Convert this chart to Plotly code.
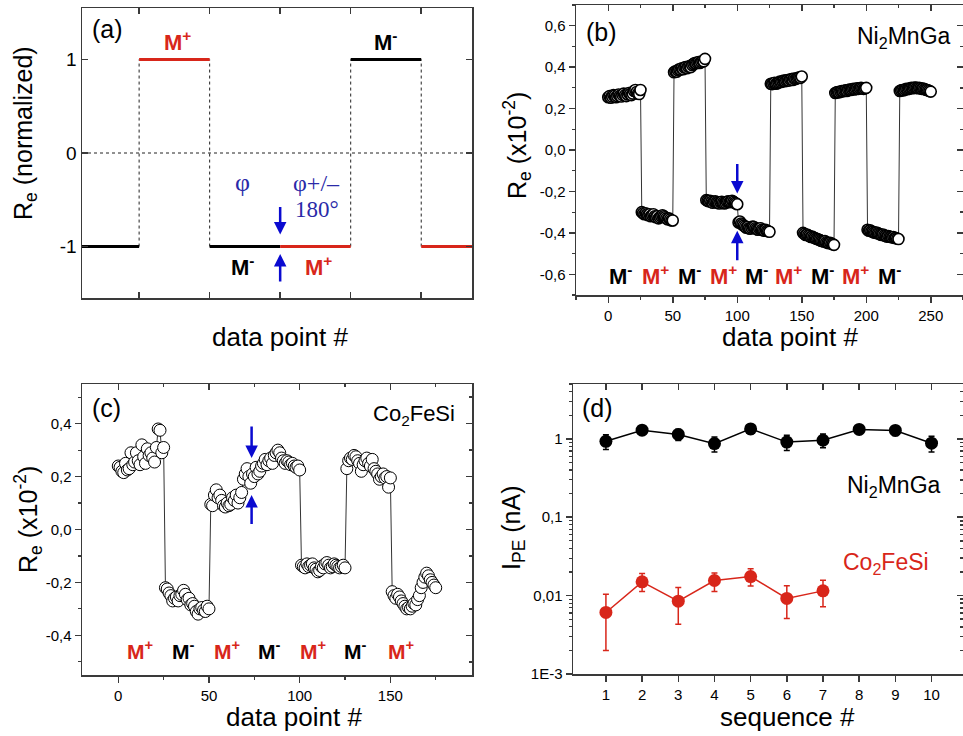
import plotly.graph_objects as go

W, H = 963, 736
FONT = "Liberation Sans, Arial, sans-serif"
SERIF = "Liberation Serif, Times New Roman, serif"
RED = "#d8261a"
BLUE = "#0a0ad0"
DBLUE = "#2a2aa8"
AX = "#3a3a3a"


def px(x):
    return x / W


def py(y):
    return 1 - y / H


# ---------------- data: panel (a) schematic ----------------
a_bounds = [0.19, 1, 2, 3, 4, 5, 5.72]
a_levels = [-1, 1, -1, -1, 1, -1]
a_colors = ["black", RED, "black", RED, "black", RED]
a_dotted_x = [1, 2, 4, 5]

# ---------------- data: panel (b) Ni2MnGa ----------------
b_seg0 = [0.255, 0.26, 0.252, 0.258, 0.265, 0.262, 0.255, 0.26, 0.268, 0.262, 0.258, 0.266, 0.272,
          0.265, 0.26, 0.268, 0.275, 0.27, 0.265, 0.272, 0.285, 0.29, 0.28, 0.272, 0.27, 0.29]
b_seg1 = [-0.30, -0.305, -0.31, -0.305, -0.31, -0.315, -0.31, -0.32, -0.315, -0.31, -0.32, -0.325,
          -0.32, -0.33, -0.325, -0.32, -0.315, -0.32, -0.325, -0.33, -0.335, -0.33, -0.335, -0.34, -0.34]
b_seg2 = [0.375, 0.38, 0.378, 0.385, 0.39, 0.388, 0.395, 0.39, 0.398, 0.40, 0.395, 0.402, 0.405,
          0.40, 0.41, 0.415, 0.42, 0.418, 0.422, 0.425, 0.42, 0.425, 0.43, 0.428, 0.44]
b_seg3 = [-0.242, -0.245, -0.248, -0.245, -0.25, -0.255, -0.25, -0.248, -0.252, -0.255, -0.258,
          -0.252, -0.25, -0.255, -0.258, -0.255, -0.25, -0.248, -0.252, -0.25, -0.245, -0.25,
          -0.255, -0.258, -0.262]
b_seg4 = [-0.35, -0.345, -0.355, -0.36, -0.365, -0.37, -0.375, -0.372, -0.378, -0.38, -0.375,
          -0.37, -0.372, -0.378, -0.382, -0.385, -0.38, -0.378, -0.385, -0.388, -0.39, -0.385,
          -0.39, -0.392, -0.395]
b_seg5 = [0.32, 0.318, 0.322, 0.325, 0.32, 0.322, 0.326, 0.33, 0.328, 0.332, 0.335, 0.332, 0.336,
          0.338, 0.335, 0.34, 0.342, 0.338, 0.345, 0.342, 0.345, 0.348, 0.35, 0.348, 0.355]
b_seg6 = [-0.40, -0.405, -0.41, -0.408, -0.412, -0.415, -0.42, -0.418, -0.422, -0.425, -0.428,
          -0.43, -0.432, -0.435, -0.438, -0.44, -0.442, -0.44, -0.445, -0.448, -0.45, -0.448,
          -0.452, -0.455, -0.458]
b_seg7 = [0.275, 0.278, 0.28, 0.278, 0.282, 0.285, 0.283, 0.286, 0.288, 0.285, 0.29, 0.292, 0.29,
          0.293, 0.295, 0.292, 0.295, 0.298, 0.295, 0.298, 0.30, 0.298, 0.295, 0.298, 0.30]
b_seg8 = [-0.385, -0.39, -0.388, -0.392, -0.395, -0.398, -0.40, -0.398, -0.402, -0.405, -0.408,
          -0.41, -0.408, -0.412, -0.415, -0.418, -0.415, -0.418, -0.42, -0.422, -0.42, -0.425,
          -0.425, -0.428, -0.43]
b_seg9 = [0.285, 0.288, 0.29, 0.288, 0.292, 0.295, 0.293, 0.296, 0.298, 0.30, 0.298, 0.30, 0.302,
          0.30, 0.298, 0.30, 0.298, 0.295, 0.297, 0.294, 0.292, 0.29, 0.288, 0.285, 0.282]
b_values = (b_seg0 + b_seg1 + b_seg2 + b_seg3 + b_seg4 + b_seg5 + b_seg6 + b_seg7 + b_seg8 + b_seg9)
b_labels = ["M<sup>-</sup>", "M<sup>+</sup>"] * 4 + ["M<sup>-</sup>"]
b_label_x = [9.5, 37, 63, 89, 115, 140, 166, 192, 218]
b_ytick_vals = [-0.6, -0.4, -0.2, 0.0, 0.2, 0.4, 0.6]
b_ytick_text = ["-0,6", "-0,4", "-0,2", "0,0", "0,2", "0,4", "0,6"]
b_xtick_vals = [0, 50, 100, 150, 200, 250]

# ---------------- data: panel (c) Co2FeSi ----------------
c_seg0 = [0.24, 0.235, 0.22, 0.215, 0.25, 0.225, 0.23, 0.29, 0.245, 0.255, 0.29, 0.26, 0.245,
          0.32, 0.275, 0.25, 0.305, 0.28, 0.29, 0.27, 0.255, 0.31, 0.38, 0.375, 0.29, 0.31]
c_seg1 = [-0.22, -0.225, -0.24, -0.25, -0.27, -0.26, -0.255, -0.27, -0.25, -0.245, -0.23, -0.245,
          -0.265, -0.26, -0.285, -0.28, -0.29, -0.31, -0.32, -0.30, -0.295, -0.305, -0.31, -0.29, -0.30]
c_seg2 = [0.095, 0.09, 0.13, 0.15, 0.12, 0.13, 0.11, 0.09, 0.085, 0.10, 0.09, 0.095, 0.12, 0.11,
          0.13, 0.10, 0.12, 0.14, 0.19, 0.21, 0.23, 0.20, 0.175, 0.21, 0.20, 0.235, 0.21, 0.22,
          0.24, 0.25, 0.265, 0.245, 0.26, 0.27, 0.25, 0.28, 0.29, 0.30, 0.29, 0.27, 0.26, 0.25,
          0.26, 0.255, 0.245, 0.25, 0.24, 0.235, 0.24, 0.225]
c_seg3 = [-0.135, -0.14, -0.145, -0.13, -0.14, -0.135, -0.13, -0.145, -0.15, -0.16, -0.155, -0.14,
          -0.145, -0.13, -0.125, -0.135, -0.145, -0.14, -0.13, -0.135, -0.14, -0.145, -0.14,
          -0.135, -0.145]
c_seg4 = [0.23, 0.26, 0.27, 0.265, 0.28, 0.275, 0.26, 0.25, 0.22, 0.245, 0.26, 0.27, 0.25, 0.24,
          0.265, 0.23, 0.22, 0.21, 0.19, 0.20, 0.21, 0.195, 0.20, 0.16, 0.195]
c_seg5 = [-0.235, -0.25, -0.26, -0.245, -0.255, -0.27, -0.28, -0.29, -0.30, -0.295, -0.30, -0.29,
          -0.28, -0.285, -0.265, -0.25, -0.22, -0.20, -0.18, -0.165, -0.175, -0.19, -0.20, -0.21, -0.22]
c_values = c_seg0 + c_seg1 + c_seg2 + c_seg3 + c_seg4 + c_seg5
c_labels = ["M<sup>+</sup>", "M<sup>-</sup>"] * 3 + ["M<sup>+</sup>"]
c_label_x = [12, 36, 60, 83.5, 107.5, 131, 156]
c_ytick_vals = [-0.4, -0.2, 0.0, 0.2, 0.4]
c_ytick_text = ["-0,4", "-0,2", "0,0", "0,2", "0,4"]
c_xtick_vals = [0, 50, 100, 150]

# ---------------- data: panel (d) photoemission current ----------------
d_seq_ni = [1, 2, 3, 4, 5, 6, 7, 8, 9, 10]
d_ni = [0.93, 1.29, 1.14, 0.87, 1.34, 0.91, 0.96, 1.32, 1.28, 0.88]
d_ni_err = [0.2, 0.18, 0.19, 0.19, 0.18, 0.2, 0.19, 0.17, 0.18, 0.2]
d_seq_co = [1, 2, 3, 4, 5, 6, 7]
d_co = [0.0061, 0.0150, 0.0085, 0.0156, 0.0175, 0.0092, 0.0115]
d_co_hi = [0.0104, 0.0191, 0.0127, 0.0195, 0.0220, 0.0134, 0.0157]
d_co_lo = [0.0020, 0.0113, 0.0043, 0.0113, 0.0133, 0.0051, 0.0072]
d_ytick_vals = [0.001, 0.01, 0.1, 1]
d_ytick_text = ["1E-3", "0,01", "0,1", "1"]

fig = go.Figure()

# ---- panel (a) ----
fig.add_trace(go.Scatter(x=[a_bounds[0], a_bounds[-1]], y=[0, 0], mode="lines",
                         line=dict(color="#222", width=1, dash="dot"), xaxis="x", yaxis="y"))
for xv in a_dotted_x:
    fig.add_trace(go.Scatter(x=[xv, xv], y=[-1, 1], mode="lines",
                             line=dict(color="#222", width=1, dash="dot"), xaxis="x", yaxis="y"))
for i, lev in enumerate(a_levels):
    fig.add_trace(go.Scatter(x=[a_bounds[i], a_bounds[i + 1]], y=[lev, lev], mode="lines",
                             line=dict(color=a_colors[i], width=3), xaxis="x", yaxis="y"))

# ---- panel (b) ----
fig.add_trace(go.Scatter(x=list(range(len(b_values))), y=b_values, mode="lines+markers",
                         line=dict(color="#333", width=1),
                         marker=dict(size=11, color="white", line=dict(color="black", width=1.6)),
                         xaxis="x2", yaxis="y2"))

# ---- panel (c) ----
fig.add_trace(go.Scatter(x=list(range(len(c_values))), y=c_values, mode="lines+markers",
                         line=dict(color="#333", width=1),
                         marker=dict(size=12, color="white", line=dict(color="black", width=1)),
                         xaxis="x3", yaxis="y3"))

# ---- panel (d) ----
fig.add_trace(go.Scatter(x=d_seq_ni, y=d_ni, mode="lines+markers",
                         line=dict(color="black", width=1.5),
                         marker=dict(size=13, color="black"),
                         error_y=dict(type="data", array=d_ni_err, color="black", thickness=1.5, width=3),
                         xaxis="x4", yaxis="y4"))
fig.add_trace(go.Scatter(x=d_seq_co, y=d_co, mode="lines+markers",
                         line=dict(color=RED, width=1.5),
                         marker=dict(size=13, color=RED),
                         error_y=dict(type="data", symmetric=False,
                                      array=[h - v for h, v in zip(d_co_hi, d_co)],
                                      arrayminus=[v - l for v, l in zip(d_co, d_co_lo)],
                                      color=RED, thickness=1.5, width=3),
                         xaxis="x4", yaxis="y4"))

# dummy traces for mirrored-tick overlay axes
for xa, ya in [("x5", "y2"), ("x2", "y5"), ("x6", "y3"), ("x3", "y6"), ("x7", "y4"), ("x4", "y7")]:
    fig.add_trace(go.Scatter(x=[None], y=[None], mode="markers", xaxis=xa, yaxis=ya,
                             hoverinfo="skip"))

tickfont = dict(family=FONT, size=15, color="black")
base = dict(showline=True, linecolor=AX, linewidth=1.5, showgrid=False, zeroline=False,
            tickcolor=AX, tickwidth=1.5, tickfont=tickfont, automargin=False)


def ov(**kw):
    d = dict(showline=False, showgrid=False, zeroline=False, showticklabels=False,
             ticks="inside", ticklen=6, tickwidth=1.5, tickcolor=AX, automargin=False)
    d.update(kw)
    return d


b_xminor = [-25, 25, 75, 125, 175, 225, 275]
b_yminor = [-0.7, -0.5, -0.3, -0.1, 0.1, 0.3, 0.5, 0.7]
c_xminor = [-25, 25, 75, 125, 175]
c_yminor = [-0.5, -0.3, -0.1, 0.1, 0.3, 0.5]
d_yminor = [k * 10 ** e for e in (-3, -2, -1, 0) for k in range(2, 10) if k * 10 ** e <= 5]

dom_a_x = [px(82), px(472)]
dom_a_y = [py(298), py(8)]
dom_b_x = [px(576), 1.0]
dom_b_y = [py(295), py(5)]
dom_c_x = [px(82), px(472)]
dom_c_y = [py(675), py(384)]
dom_d_x = [px(573), 1.0]
dom_d_y = [py(674), py(384)]

fig.update_layout(
    width=W, height=H, margin=dict(l=0, r=0, t=0, b=0, pad=0),
    paper_bgcolor="white", plot_bgcolor="white", showlegend=False, hovermode=False,
    font=dict(family=FONT, color="black"),
    # (a)
    xaxis=dict(**base, domain=dom_a_x, anchor="y", range=[a_bounds[0], a_bounds[-1]],
               tickmode="array", tickvals=[1, 2, 3, 4, 5], showticklabels=False,
               ticks="inside", ticklen=6, mirror="ticks"),
    yaxis=dict(**{**base, "tickfont": dict(family=FONT, size=19, color="black")},
               domain=dom_a_y, anchor="x", range=[-1.55, 1.55],
               tickmode="array", tickvals=[-1, 0, 1], ticktext=["-1", "0", "1"],
               ticks="inside", ticklen=6, mirror="ticks"),
    # (b)
    xaxis2=dict(**base, domain=dom_b_x, anchor="y2", range=[-25, 275], mirror=True,
                tickmode="array", tickvals=b_xtick_vals, ticks="outside", ticklen=6,
                minor=dict(tickmode="array", tickvals=b_xminor, ticks="outside", ticklen=3,
                           tickcolor=AX, tickwidth=1.2, showgrid=False)),
    yaxis2=dict(**base, domain=dom_b_y, anchor="x2", range=[-0.7, 0.7], mirror=True,
                tickmode="array", tickvals=b_ytick_vals, ticktext=b_ytick_text,
                ticks="outside", ticklen=6,
                minor=dict(tickmode="array", tickvals=b_yminor, ticks="outside", ticklen=3,
                           tickcolor=AX, tickwidth=1.2, showgrid=False)),
    xaxis5=ov(overlaying="x2", side="top", anchor="y2", range=[-25, 275], tickmode="array",
              tickvals=b_xtick_vals,
              minor=dict(tickmode="array", tickvals=b_xminor, ticks="inside", ticklen=3,
                         tickcolor=AX, showgrid=False)),
    yaxis5=ov(overlaying="y2", side="right", anchor="x2", range=[-0.7, 0.7], tickmode="array",
              tickvals=b_ytick_vals,
              minor=dict(tickmode="array", tickvals=b_yminor, ticks="inside", ticklen=3,
                         tickcolor=AX, showgrid=False)),
    # (c)
    xaxis3=dict(**base, domain=dom_c_x, anchor="y3", range=[-20, 195], mirror=True,
                tickmode="array", tickvals=c_xtick_vals, ticks="outside", ticklen=6,
                minor=dict(tickmode="array", tickvals=c_xminor, ticks="outside", ticklen=3,
                           tickcolor=AX, tickwidth=1.2, showgrid=False)),
    yaxis3=dict(**base, domain=dom_c_y, anchor="x3", range=[-0.55, 0.55], mirror=True,
                tickmode="array", tickvals=c_ytick_vals, ticktext=c_ytick_text,
                ticks="outside", ticklen=6,
                minor=dict(tickmode="array", tickvals=c_yminor, ticks="outside", ticklen=3,
                           tickcolor=AX, tickwidth=1.2, showgrid=False)),
    xaxis6=ov(overlaying="x3", side="top", anchor="y3", range=[-20, 195], tickmode="array",
              tickvals=c_xtick_vals,
              minor=dict(tickmode="array", tickvals=c_xminor, ticks="inside", ticklen=3,
                         tickcolor=AX, showgrid=False)),
    yaxis6=ov(overlaying="y3", side="right", anchor="x3", range=[-0.55, 0.55], tickmode="array",
              tickvals=c_ytick_vals,
              minor=dict(tickmode="array", tickvals=c_yminor, ticks="inside", ticklen=3,
                         tickcolor=AX, showgrid=False)),
    # (d)
    xaxis4=dict(**base, domain=dom_d_x, anchor="y4", range=[0.09, 10.87], mirror=True,
                tickmode="array", tickvals=d_seq_ni, ticks="outside", ticklen=6),
    yaxis4=dict(**base, domain=dom_d_y, anchor="x4", type="log", range=[-3, 0.7], mirror=True,
                tickmode="array", tickvals=d_ytick_vals, ticktext=d_ytick_text,
                ticks="outside", ticklen=6,
                minor=dict(tickmode="array", tickvals=d_yminor, ticks="outside", ticklen=3,
                           tickcolor=AX, tickwidth=1.2, showgrid=False)),
    xaxis7=ov(overlaying="x4", side="top", anchor="y4", range=[0.09, 10.87], tickmode="array",
              tickvals=d_seq_ni),
    yaxis7=ov(overlaying="y4", side="right", anchor="x4", type="log", range=[-3, 0.7],
              tickmode="array", tickvals=d_ytick_vals,
              minor=dict(tickmode="array", tickvals=d_yminor, ticks="inside", ticklen=3,
                         tickcolor=AX, showgrid=False)),
)

ann = []


def paper_text(x, y, text, size, angle=0, color="black", family=FONT, xanchor="center"):
    ann.append(dict(x=px(x), y=py(y), xref="paper", yref="paper", text=text, showarrow=False,
                    textangle=angle, xanchor=xanchor, yanchor="middle",
                    font=dict(family=family, size=size, color=color)))


# axis titles
paper_text(25, 133, "R<sub>e</sub> (normalized)", 25, angle=-90)
paper_text(280, 337, "data point #", 26)
paper_text(517, 146, "R<sub>e</sub> (x10<sup>-2</sup>)", 25, angle=-90)
paper_text(790, 337, "data point #", 26)
paper_text(28, 520, "R<sub>e</sub> (x10<sup>-2</sup>)", 25, angle=-90)
paper_text(294, 717, "data point #", 26)
paper_text(787, 717, "sequence #", 26)
paper_text(513, 528, "I<sub>PE</sub> (nA)", 25, angle=-90)
# panel letters
paper_text(107, 29, "(a)", 25)
paper_text(601, 32, "(b)", 25)
paper_text(106, 408, "(c)", 25)
paper_text(597, 408, "(d)", 25)
# sample names
paper_text(953, 38, "Ni<sub>2</sub>MnGa", 23, xanchor="right")
paper_text(457, 415, "Co<sub>2</sub>FeSi", 22, xanchor="right")
paper_text(943, 486, "Ni<sub>2</sub>MnGa", 23, xanchor="right")
paper_text(931, 563, "Co<sub>2</sub>FeSi", 23, color=RED, xanchor="right")


def data_text(xr, yr, x, y, text, size, color="black", family=FONT):
    ann.append(dict(x=x, y=y, xref=xr, yref=yr, text=text, showarrow=False,
                    font=dict(family=family, size=size, color=color)))


def arrow(xr, yr, x, y_tail, y_head, color):
    ann.append(dict(x=x, y=y_head, ax=x, ay=y_tail, xref=xr, yref=yr, axref=xr, ayref=yr,
                    text="", showarrow=True, arrowhead=2, arrowsize=1, arrowwidth=2.5,
                    arrowcolor=color))


# panel (a) labels
data_text("x", "y", 1.55, 1.2, "<b>M<sup>+</sup></b>", 22, RED)
data_text("x", "y", 4.5, 1.2, "<b>M<sup>-</sup></b>", 22)
data_text("x", "y", 2.47, -1.21, "<b>M<sup>-</sup></b>", 22)
data_text("x", "y", 3.55, -1.21, "<b>M<sup>+</sup></b>", 22, RED)
data_text("x", "y", 2.46, -0.32, "φ", 26, DBLUE, SERIF)
data_text("x", "y", 3.52, -0.32, "φ+/–", 24, DBLUE, SERIF)
data_text("x", "y", 3.52, -0.6, "180°", 23, DBLUE, SERIF)
arrow("x", "y", 3, -0.56, -0.87, BLUE)
arrow("x", "y", 3, -1.39, -1.08, BLUE)

# panel (b) labels
for i, (lx, lt) in enumerate(zip(b_label_x, b_labels)):
    data_text("x2", "y2", lx, -0.605, "<b>" + lt + "</b>", 22, "black" if i % 2 == 0 else RED)
arrow("x2", "y2", 100, -0.06, -0.21, BLUE)
arrow("x2", "y2", 100, -0.54, -0.39, BLUE)

# panel (c) labels
for i, (lx, lt) in enumerate(zip(c_label_x, c_labels)):
    data_text("x3", "y3", lx, -0.455, "<b>" + lt + "</b>", 21, RED if i % 2 == 0 else "black")
arrow("x3", "y3", 73.5, 0.395, 0.27, BLUE)
arrow("x3", "y3", 73.5, 0.015, 0.13, BLUE)

fig.update_layout(annotations=ann)
fig.write_html("out.html", config={"displayModeBar": False, "staticPlot": True},
               post_script="document.body.style.margin='0px';")
